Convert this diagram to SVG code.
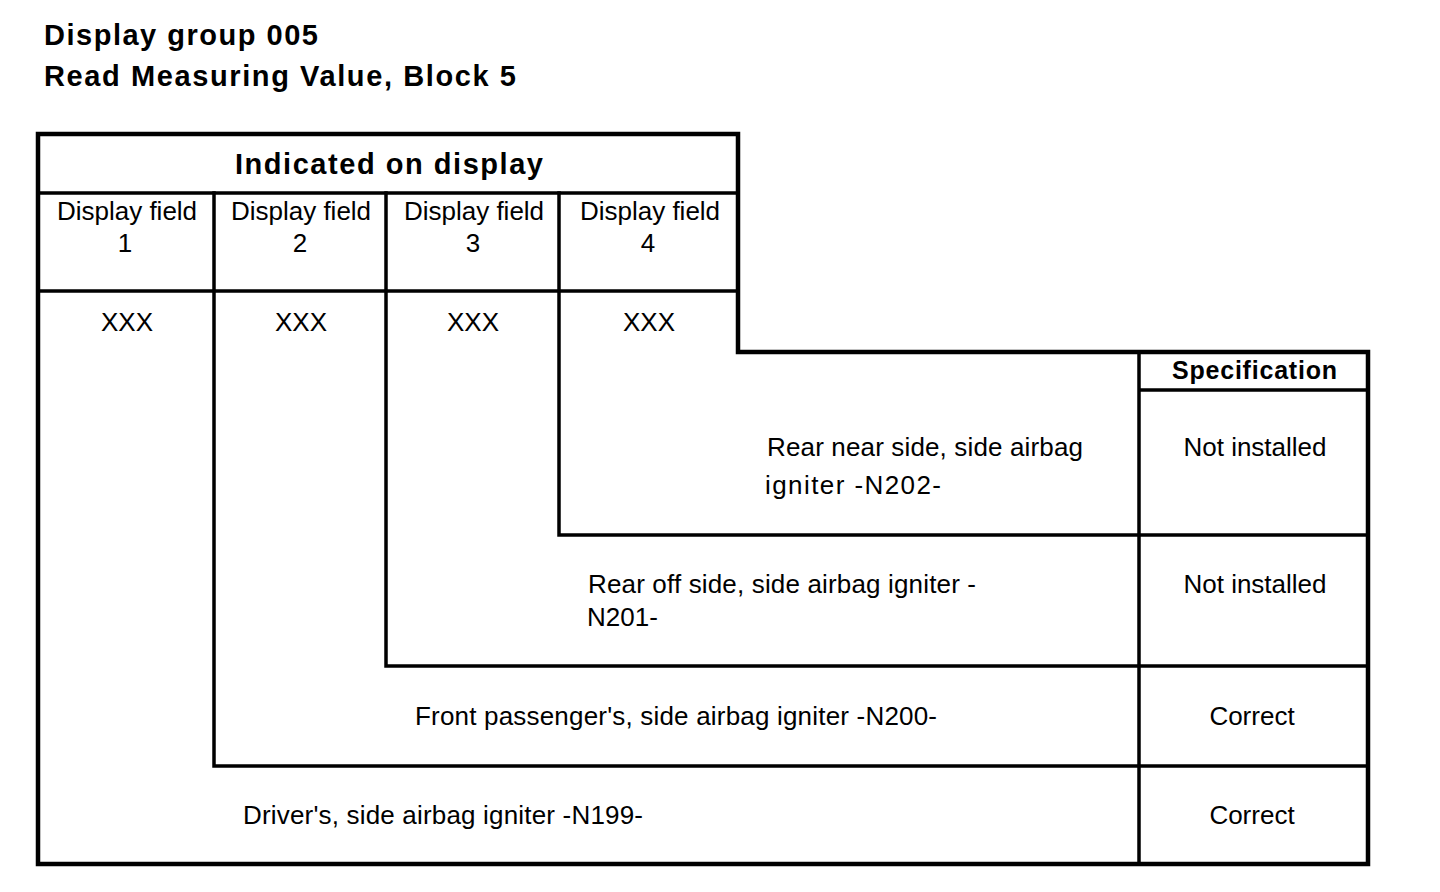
<svg xmlns="http://www.w3.org/2000/svg" width="1440" height="892" viewBox="0 0 1440 892">
<style>
.ln{fill:none;stroke:#000;stroke-width:3.5;stroke-linecap:square}
.out{fill:none;stroke:#000;stroke-width:4.5;stroke-linejoin:miter}
.b{font-family:"Liberation Sans",Arial,sans-serif;font-weight:bold;fill:#000}
.r{font-family:"Liberation Sans",Arial,sans-serif;font-size:26px;fill:#000}
.c{text-anchor:middle}
</style>
<rect width="1440" height="892" fill="#fff"/>
<g id="title">
<text class="b" x="44" y="45" font-size="29" textLength="274" lengthAdjust="spacing">Display group 005</text>
<text class="b" x="44" y="86" font-size="29" textLength="472" lengthAdjust="spacing">Read Measuring Value, Block 5</text>
</g>
<g id="frame">
<path class="out" d="M38,134 H738 V352 H1368 V864 H38 Z"/>
<path class="ln" d="M38,193 H738 M38,291 H738"/>
<path class="ln" d="M214,193 V766 H1368 M386,193 V666 H1368 M559,193 V535 H1368"/>
<path class="ln" d="M1139,352 V864 M1139,390 H1368"/>
</g>
<g id="header">
<text class="b" x="235" y="174" font-size="29" textLength="308" lengthAdjust="spacing">Indicated on display</text>
</g>
<g id="field1">
<text class="r c" x="127" y="220">Display field</text>
<text class="r c" x="125" y="252">1</text>
<text class="r c" x="127" y="331">XXX</text>
</g>
<g id="field2">
<text class="r c" x="301" y="220">Display field</text>
<text class="r c" x="300" y="252">2</text>
<text class="r c" x="301" y="331">XXX</text>
</g>
<g id="field3">
<text class="r c" x="474" y="220">Display field</text>
<text class="r c" x="473" y="252">3</text>
<text class="r c" x="473" y="331">XXX</text>
</g>
<g id="field4">
<text class="r c" x="650" y="220">Display field</text>
<text class="r c" x="648" y="252">4</text>
<text class="r c" x="649" y="331">XXX</text>
</g>
<g id="spec-header">
<text class="b" x="1172" y="379" font-size="25" textLength="165" lengthAdjust="spacing">Specification</text>
</g>
<g id="row-n202">
<text class="r" x="767" y="456" textLength="316" lengthAdjust="spacing">Rear near side, side airbag</text>
<text class="r" x="765" y="494" textLength="176" lengthAdjust="spacing">igniter -N202-</text>
<text class="r c" x="1255" y="456">Not installed</text>
</g>
<g id="row-n201">
<text class="r" x="588" y="593" textLength="388" lengthAdjust="spacing">Rear off side, side airbag igniter -</text>
<text class="r" x="587" y="626">N201-</text>
<text class="r c" x="1255" y="593">Not installed</text>
</g>
<g id="row-n200">
<text class="r" x="415" y="725" textLength="522" lengthAdjust="spacing">Front passenger's, side airbag igniter -N200-</text>
<text class="r c" x="1252" y="725">Correct</text>
</g>
<g id="row-n199">
<text class="r" x="243" y="824" textLength="400" lengthAdjust="spacing">Driver's, side airbag igniter -N199-</text>
<text class="r c" x="1252" y="824">Correct</text>
</g>
</svg>
